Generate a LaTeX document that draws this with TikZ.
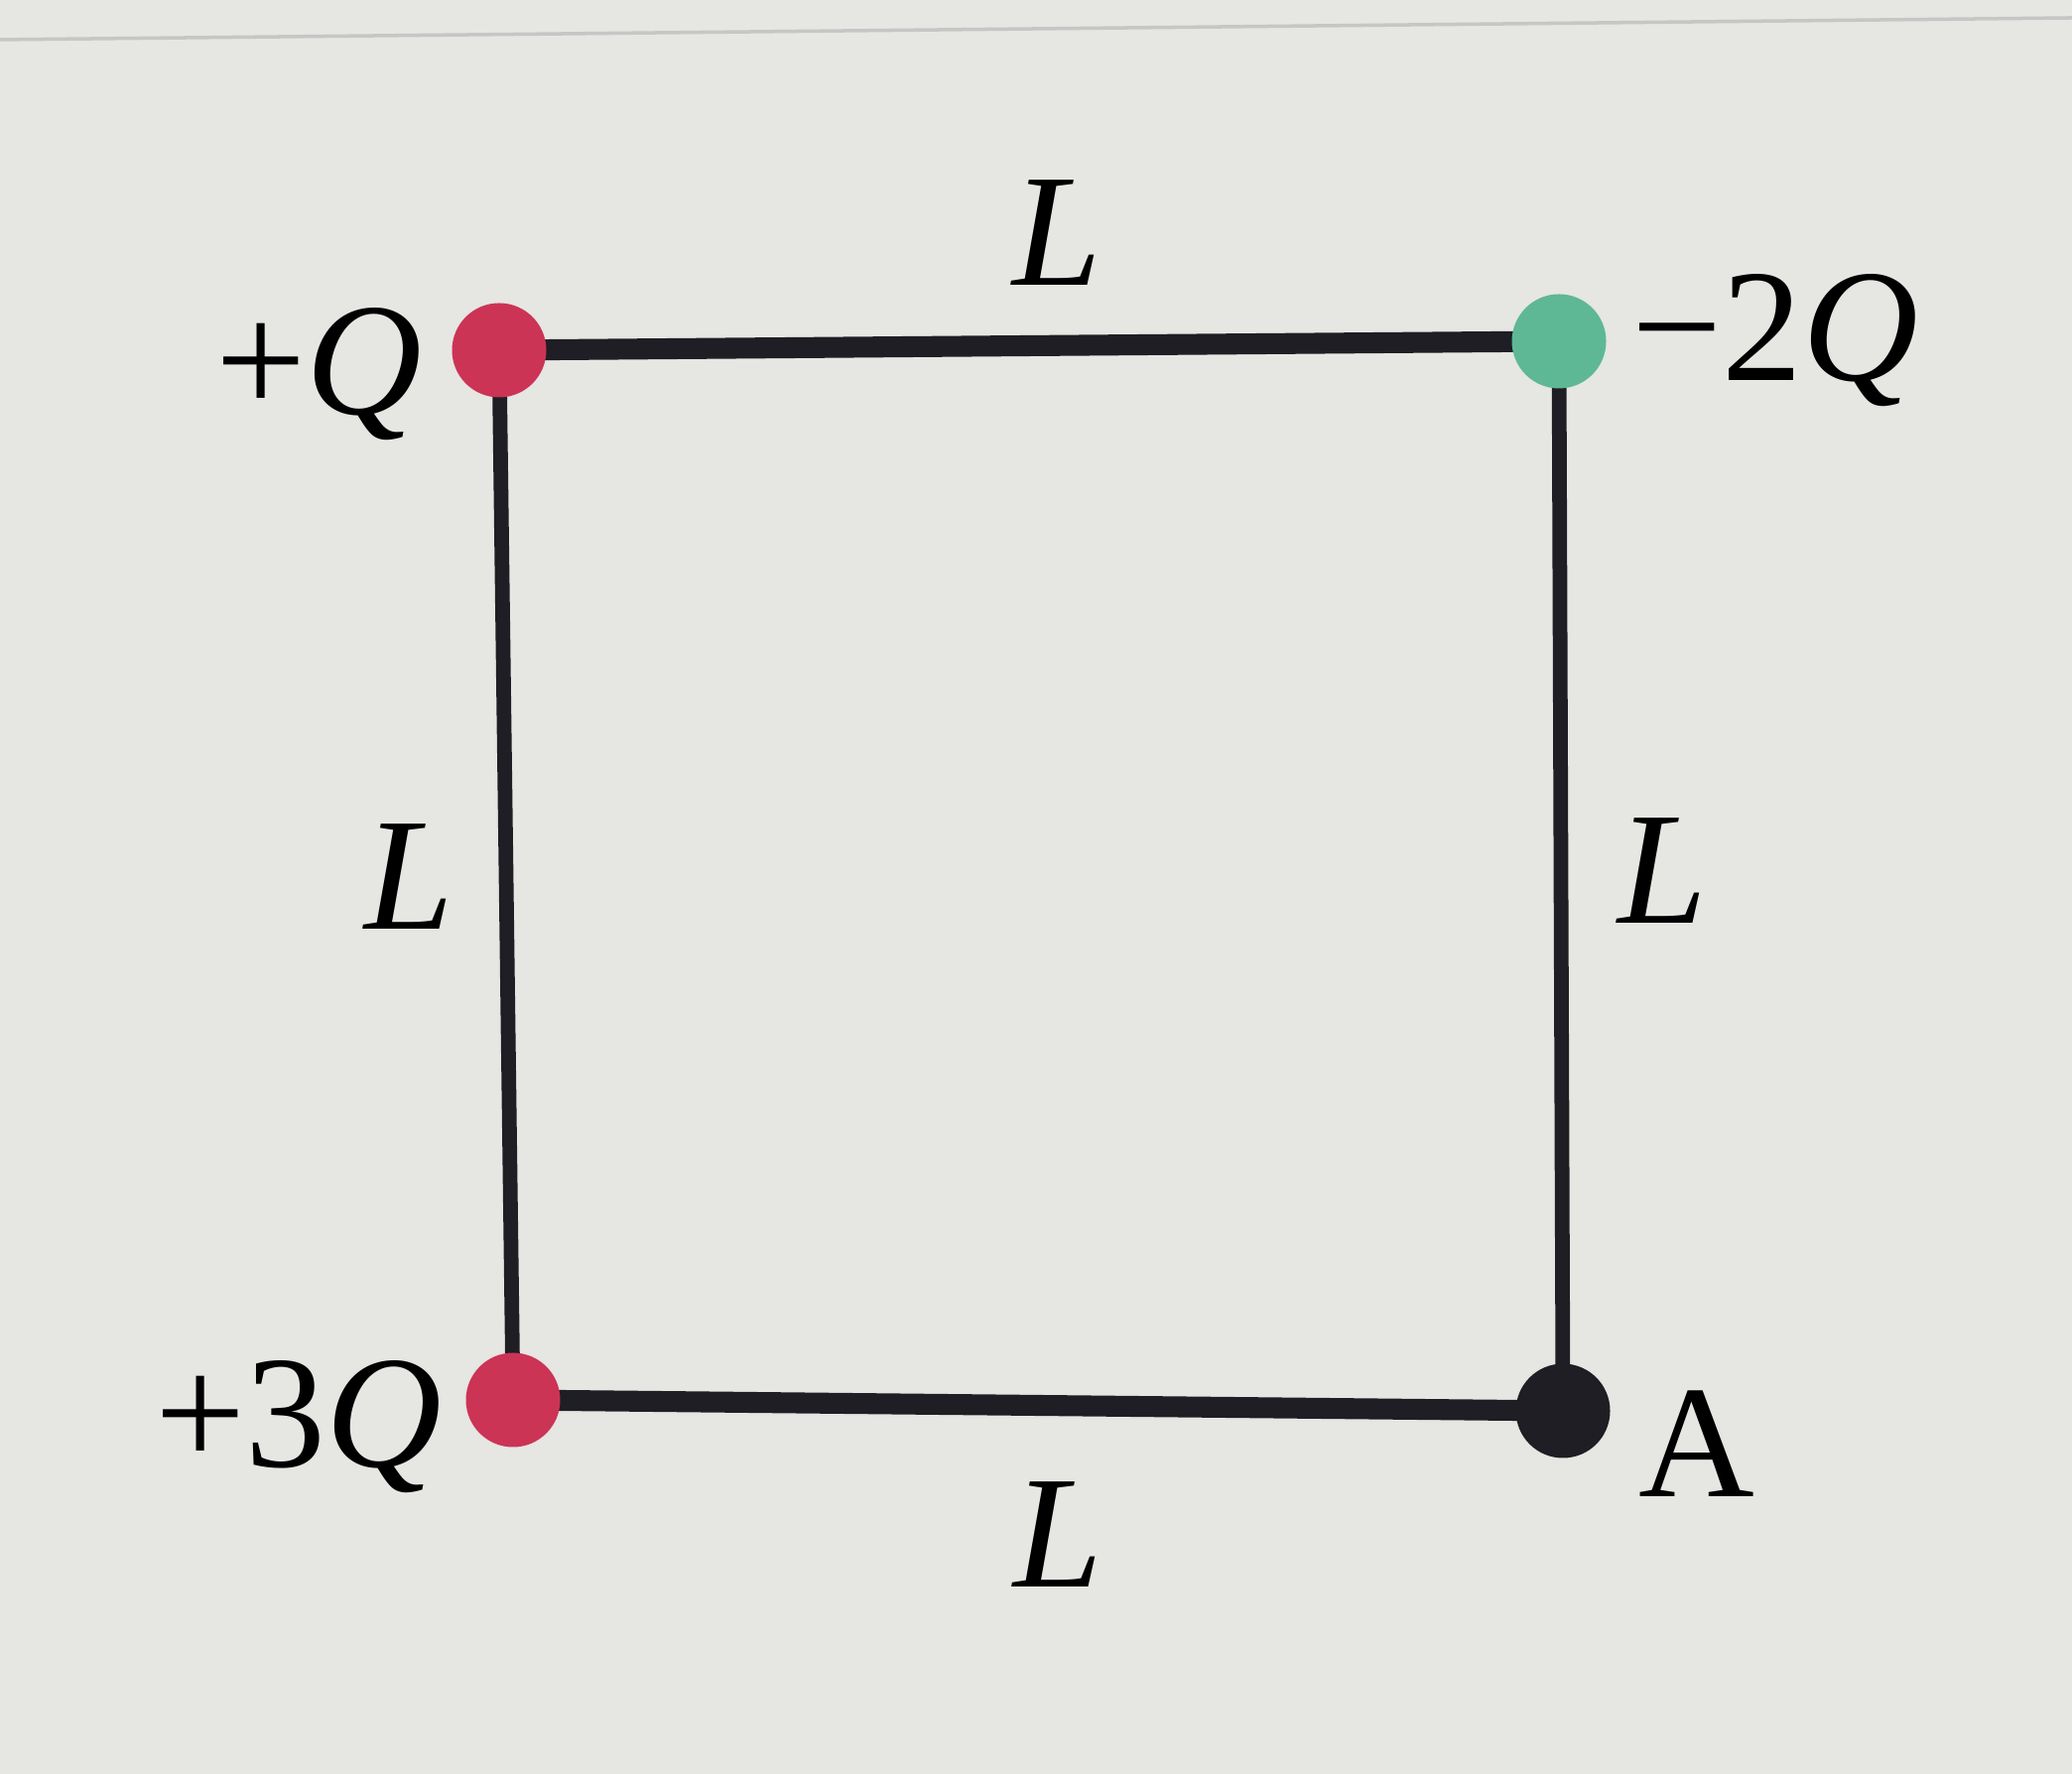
\documentclass[tikz,border=0pt]{standalone}
\usepackage{fontspec}
\setmainfont{Liberation Serif}
\usetikzlibrary{calc}
\definecolor{paper}{RGB}{230,230,226}
\definecolor{plusred}{RGB}{204,52,86}
\definecolor{minusgreen}{RGB}{94,184,150}
\definecolor{pointblack}{RGB}{30,30,36}
\def\drawside{\draw[color=pointblack]}
\def\chargenode{\node[circle,inner sep=0pt,minimum size=0.95cm]}
\def\labelnode{\node[inner sep=0pt,font=\fontsize{46}{52}\selectfont]}

\begin{document}
\begin{tikzpicture}
\useasboundingbox[fill=paper] (0,0) rectangle (20.88,17.88);
\draw[color=gray!45, line width=1pt] (0,17.48) -- (20.88,17.70); % edge of the screen

% ---------- corners of the square
\coordinate (tl) at (5.03,14.35);
\coordinate (tr) at (15.71,14.44);
\coordinate (bl) at (5.17,3.77);
\coordinate (br) at (15.75,3.66);

% sides first, charges on top
\drawside[line width=6pt] (tl) to (tr);
\drawside[line width=6pt] (bl) to (br);
\drawside[line width=4.2pt] (tl) to (bl);
\drawside[line width=4.2pt] (tr) to (br);

\chargenode[fill=plusred] (qone) at (tl) {};
\chargenode[fill=minusgreen] (qtwo) at (tr) {};
\chargenode[fill=plusred] (qthree) at (bl) {};
\chargenode[fill=pointblack] (pA) at (br) {};

% ---------- charge labels
\labelnode[anchor=east] (qone_lab) at ($ (qone) + (-0.77,-0.24) $) {+\textit{Q}};
\labelnode[anchor=west] (qtwo_lab) at ($ (qtwo) + (0.73,0.01) $) {−2\textit{Q}};
\labelnode[anchor=east] (qthree_lab) at ($ (qthree) + (-0.71,-0.27) $) {+3\textit{Q}};
\labelnode[anchor=west] (pA_lab) at ($ (pA) + (0.76,-0.33) $) {A};

% ---------- side lengths
\labelnode (top_lab) at ($ (tl)!.5!(tr) + (0.28,1.14) $) {\textit{L}};
\labelnode (left_lab) at ($ (tl)!.5!(bl) + (-0.98,-0.02) $) {\textit{L}};
\labelnode (right_lab) at ($ (tr)!.5!(br) + (1.02,0.05) $) {\textit{L}};
\labelnode (bottom_lab) at ($ (bl)!.5!(br) + (0.2,-1.3) $) {\textit{L}};
\end{tikzpicture}
\end{document}
